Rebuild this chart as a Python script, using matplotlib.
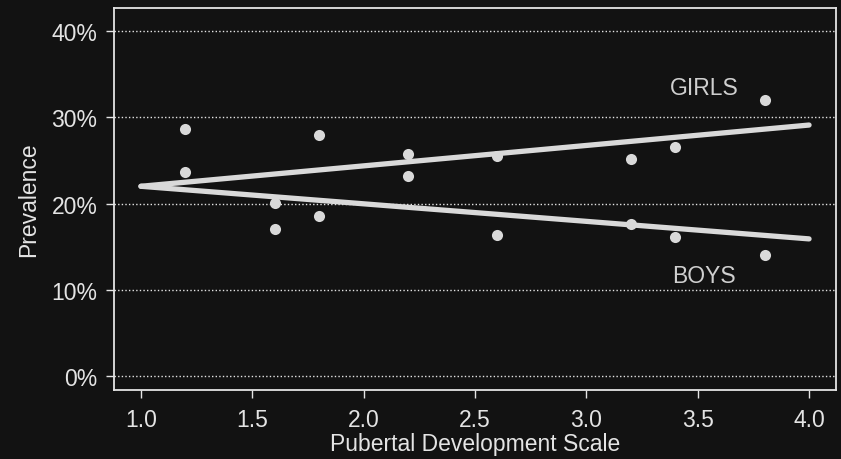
import numpy as np
import matplotlib.pyplot as plt

plt.rcParams['font.family'] = ['Liberation Sans', 'DejaVu Sans']

# Observed prevalence by pubertal stage
pds_points = [1.2, 1.2, 1.6, 1.6, 1.8, 1.8, 2.2, 2.2, 2.6, 2.6, 3.2, 3.2, 3.4, 3.4, 3.8, 3.8]
prevalence = [28.6, 23.7, 20.1, 17.1, 28.0, 18.6, 25.8, 23.2, 25.5, 16.3, 25.2, 17.6, 26.6, 16.1, 32.0, 14.0]

# Fitted lines (start and end of the PDS range)
fit_x = [1.0, 4.0]
girls_fit = [22.0, 29.1]
boys_fit = [22.0, 15.9]

y_ticks = [0, 10, 20, 30, 40]
x_ticks = [1.0, 1.5, 2.0, 2.5, 3.0, 3.5, 4.0]

bg = '#121212'
fg = '#e4e4e4'
mark = '#d9d9d9'

fig = plt.figure(figsize=(8.41, 4.60), dpi=100, facecolor=bg)
ax = fig.add_axes([114 / 841, 1 - 391 / 460, (836 - 114) / 841, (391 - 9) / 460])
ax.set_facecolor(bg)

for yv in y_ticks:
    ax.axhline(yv, color=fg, lw=1.0, ls=(0, (1, 1.6)), zorder=1)

ax.plot(fit_x, girls_fit, color=mark, lw=3.8, solid_capstyle='round', zorder=3)
ax.plot(fit_x, boys_fit, color=mark, lw=3.8, solid_capstyle='round', zorder=3)
ax.plot(pds_points, prevalence, 'o', color=mark, ms=8, mec='none', zorder=4)

ax.text(3.53, 33.5, 'GIRLS', color='#cfcfcf', fontsize=16.5, ha='center', va='center')
ax.text(3.53, 11.6, 'BOYS', color='#cfcfcf', fontsize=16.5, ha='center', va='center')

ax.set_xlim(0.879, 4.121)
ax.set_ylim(-1.62, 42.67)
ax.set_xticks(x_ticks)
ax.set_xticklabels([f'{v:.1f}' for v in x_ticks])
ax.set_yticks(y_ticks)
ax.set_yticklabels([f'{v}%' for v in y_ticks])

for s in ax.spines.values():
    s.set_color(fg)
    s.set_linewidth(1.3)
ax.tick_params(colors=fg, labelsize=16.5, length=6, width=1.0)
ax.tick_params(axis='x', pad=7)
ax.tick_params(axis='y', pad=6)
ax.set_xlabel('Pubertal Development Scale', color=fg, fontsize=16.5, labelpad=1)
ax.set_ylabel('Prevalence', color=fg, fontsize=16.5, labelpad=8)

fig.savefig('out.png', dpi=100, facecolor=bg)
